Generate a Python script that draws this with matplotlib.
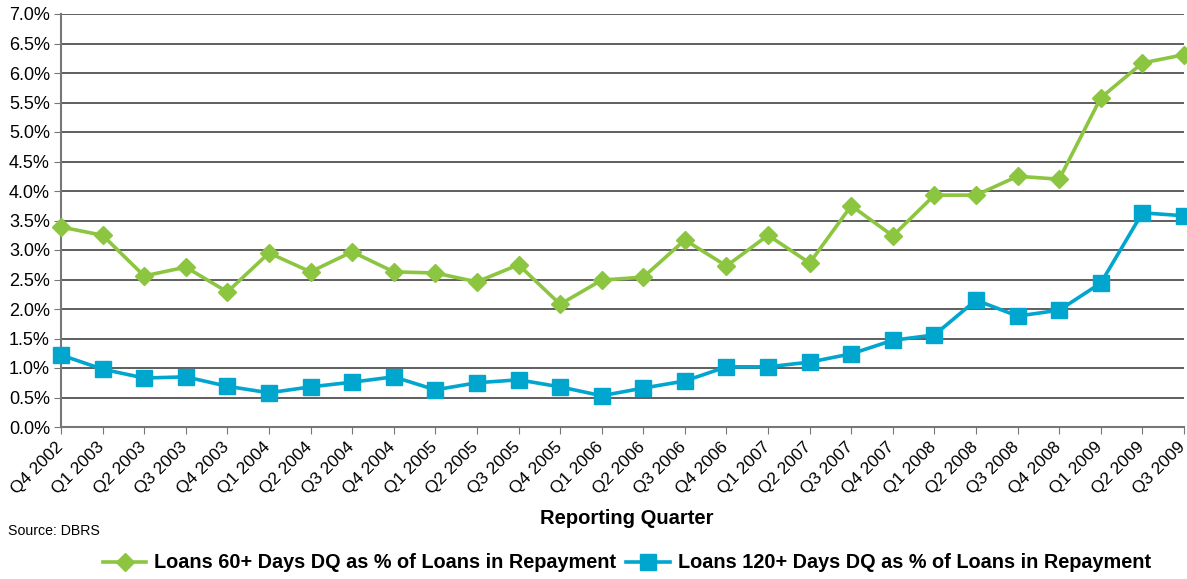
import matplotlib.pyplot as plt
import matplotlib.transforms as mtrans

plt.rcParams['font.family'] = ['Liberation Sans', 'DejaVu Sans']

quarters = ["Q4 2002", "Q1 2003", "Q2 2003", "Q3 2003", "Q4 2003", "Q1 2004", "Q2 2004",
            "Q3 2004", "Q4 2004", "Q1 2005", "Q2 2005", "Q3 2005", "Q4 2005", "Q1 2006",
            "Q2 2006", "Q3 2006", "Q4 2006", "Q1 2007", "Q2 2007", "Q3 2007", "Q4 2007",
            "Q1 2008", "Q2 2008", "Q3 2008", "Q4 2008", "Q1 2009", "Q2 2009", "Q3 2009"]

dq60 = [3.39, 3.25, 2.56, 2.71, 2.29, 2.95, 2.63, 2.97, 2.63, 2.61, 2.46, 2.75, 2.08, 2.49,
        2.54, 3.17, 2.73, 3.25, 2.78, 3.75, 3.24, 3.93, 3.93, 4.25, 4.20, 5.58, 6.17, 6.31]
dq120 = [1.22, 0.98, 0.83, 0.85, 0.69, 0.58, 0.68, 0.76, 0.85, 0.63, 0.75, 0.80, 0.68, 0.53,
         0.66, 0.78, 1.02, 1.02, 1.10, 1.24, 1.47, 1.56, 2.15, 1.88, 1.98, 2.44, 3.63, 3.58]

green = '#8cc540'
blue = '#00a6cd'

W, H = 1187, 579
fig = plt.figure(figsize=(W / 100, H / 100), dpi=100)
ax = fig.add_axes([61 / W, 1 - 427 / H, (1184 - 61) / W, (427 - 14) / H])

x = list(range(len(quarters)))
ax.plot(x, dq60, color=green, lw=2.6, marker='D', ms=9,
        label="Loans 60+ Days DQ as % of Loans in Repayment", clip_on=False, zorder=3)
ax.plot(x, dq120, color=blue, lw=2.6, marker='s', ms=11,
        label="Loans 120+ Days DQ as % of Loans in Repayment", clip_on=False, zorder=3)

ax.set_xlim(0, len(quarters) - 1)
ax.set_ylim(0, 7)
ax.set_yticks([i * 0.5 for i in range(15)])
ax.set_yticklabels([f"{i * 0.5:.1f}%" for i in range(15)], fontsize=13)
ax.set_xticks(x)
ax.set_xticklabels(quarters, rotation=45, ha='right', rotation_mode='anchor', fontsize=12.5)
ax.tick_params(axis='x', length=5, color='#777777', pad=4)
ax.tick_params(axis='y', length=5, color='#777777', pad=3)
# nudge the slanted labels left so the last one stays inside the figure
shift = mtrans.ScaledTranslation(-6 / 100, 0, fig.dpi_scale_trans)
for tick in ax.xaxis.get_major_ticks():
    tick.label1.set_transform(tick.label1.get_transform() + shift)
ax.grid(axis='y', color='#333333', lw=1.1)
ax.set_axisbelow(True)
for side in ['top', 'right']:
    ax.spines[side].set_visible(False)
ax.spines['left'].set_color('#777777')
ax.spines['bottom'].set_color('#777777')
ax.spines['left'].set_linewidth(1.5)
ax.spines['bottom'].set_linewidth(1.5)

fig.text(627 / W, 1 - 519 / H, "Reporting Quarter", ha='center', va='center',
         fontsize=14.5, fontweight='bold')
fig.text(8 / W, 1 - 531 / H, "Source: DBRS", ha='left', va='center', fontsize=10.2)

fig.legend(loc='center', bbox_to_anchor=(627 / W, 1 - 563 / H), ncol=2, frameon=False,
           prop={'weight': 'bold', 'size': 14.3}, handlelength=2.2, columnspacing=0.5,
           handletextpad=0.4)

fig.savefig('out.png', dpi=100)
